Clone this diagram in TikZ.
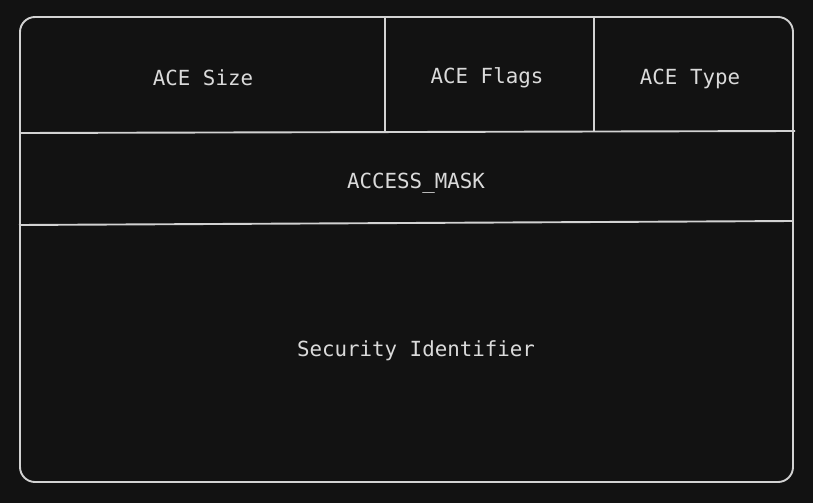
\documentclass[tikz,border=0pt]{standalone}
\usepackage{fontspec}
\setmonofont{DejaVu Sans Mono}
\definecolor{bg}{HTML}{121212}
\definecolor{ln}{HTML}{D2D2D2}
\definecolor{tx}{HTML}{DADADA}
\begin{document}
\begin{tikzpicture}[x=1pt,y=-1pt,
  lbl/.style={text=tx,font=\ttfamily\fontsize{20.8}{24}\selectfont,inner sep=0pt,anchor=base},
  edge/.style={draw=ln,line width=1.9pt}]
\fill[bg] (0,0) rectangle (813,503);
\useasboundingbox (0,0) rectangle (813,503);
\draw[edge,rounded corners=15pt] (20,17) rectangle (793,482);
\draw[edge] (20,133) -- (795,131);
\draw[edge] (19,225) -- (793,221);
\draw[edge] (385,17) -- (385,133);
\draw[edge] (594,17) -- (594,132);
\node[lbl] (size) at (203,85) {ACE Size};
\node[lbl] (flags) at (487,83) {ACE Flags};
\node[lbl] (type) at (690,84) {ACE Type};
\node[lbl] (mask) at (416,188.5) {ACCESS\_MASK};
\node[lbl] (sid) at (416,356.5) {Security Identifier};
\end{tikzpicture}
\end{document}
